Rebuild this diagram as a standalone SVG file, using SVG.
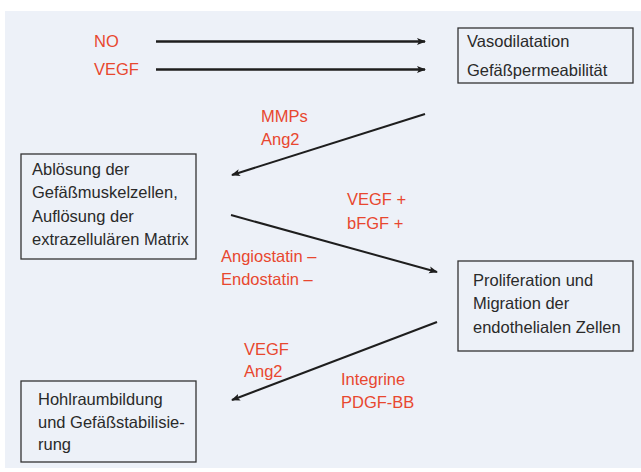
<svg xmlns="http://www.w3.org/2000/svg" width="641" height="472" viewBox="0 0 641 472">
<defs>
<style>
.box{fill:none;stroke:#333;stroke-width:1.3}
.t{font-family:"Liberation Sans",Arial,sans-serif;font-size:16.5px;fill:#2a2a2a}
.r{font-family:"Liberation Sans",Arial,sans-serif;font-size:16.5px;fill:#e8472f}
.c{stroke:#1e1e1e;fill:none}
</style>
<marker id="ah" markerWidth="10" markerHeight="8" refX="8" refY="4" orient="auto" markerUnits="userSpaceOnUse">
<path d="M0,0.5 L9,4 L0,7.5 L2,4 Z" fill="#1e1e1e"/>
</marker>
</defs>
<rect x="0" y="0" width="641" height="472" fill="#fff"/>
<rect x="5" y="11" width="636" height="457" fill="#edf1f8"/>
<g id="connectors">
<line class="c" x1="156" y1="41.5" x2="425" y2="41.5" stroke-width="2.6" marker-end="url(#ah)"/>
<line class="c" x1="156" y1="69.5" x2="425" y2="69.5" stroke-width="2.6" marker-end="url(#ah)"/>
<line class="c" x1="425" y1="114" x2="232" y2="175" stroke-width="2" marker-end="url(#ah)"/>
<line class="c" x1="231" y1="215" x2="437" y2="272" stroke-width="2" marker-end="url(#ah)"/>
<line class="c" x1="437" y1="322" x2="232" y2="400" stroke-width="2" marker-end="url(#ah)"/>
</g>
<g id="labels">
<text class="r" x="94" y="47">NO</text>
<text class="r" x="94" y="75">VEGF</text>
<text class="r" x="261" y="122">MMPs</text>
<text class="r" x="261" y="145">Ang2</text>
<text class="r" x="347" y="205">VEGF +</text>
<text class="r" x="347" y="229">bFGF +</text>
<text class="r" x="221" y="262">Angiostatin –</text>
<text class="r" x="221" y="285">Endostatin –</text>
<text class="r" x="244" y="355">VEGF</text>
<text class="r" x="244" y="377">Ang2</text>
<text class="r" x="341" y="385">Integrine</text>
<text class="r" x="341" y="408">PDGF-BB</text>
</g>
<g id="n1">
<rect class="box" x="458" y="28" width="175" height="55"/>
<text class="t" x="467" y="47">Vasodilatation</text>
<text class="t" x="467" y="76">Gefäßpermeabilität</text>
</g>
<g id="n2">
<rect class="box" x="21" y="154" width="175" height="105"/>
<text class="t" x="32" y="175">Ablösung der</text>
<text class="t" x="32" y="198">Gefäßmuskelzellen,</text>
<text class="t" x="32" y="222">Auflösung der</text>
<text class="t" x="32" y="245">extrazellulären Matrix</text>
</g>
<g id="n3">
<rect class="box" x="458" y="261" width="175" height="90"/>
<text class="t" x="473" y="286">Proliferation und</text>
<text class="t" x="473" y="309">Migration der</text>
<text class="t" x="473" y="333">endothelialen Zellen</text>
</g>
<g id="n4">
<rect class="box" x="21" y="381" width="175" height="81"/>
<text class="t" x="38" y="405">Hohlraumbildung</text>
<text class="t" x="38" y="428">und Gefäßstabilisie-</text>
<text class="t" x="38" y="450">rung</text>
</g>
</svg>
